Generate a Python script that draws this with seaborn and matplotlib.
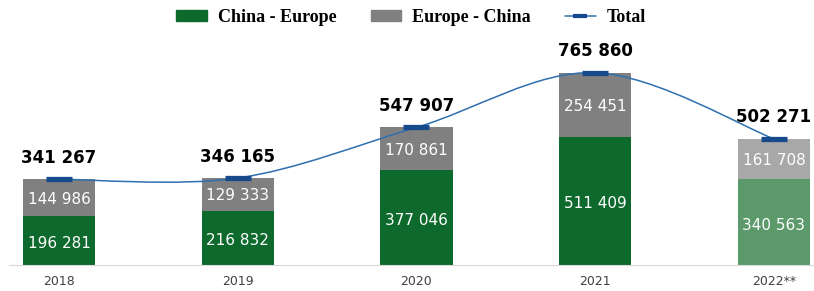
import matplotlib.pyplot as plt
import seaborn as sns
import numpy as np
import pandas as pd
from matplotlib.path import Path
from matplotlib.patches import PathPatch, Patch
from matplotlib.lines import Line2D

sns.set_style('white')

years = ['2018', '2019', '2020', '2021', '2022**']
china_europe = [196281, 216832, 377046, 511409, 340563]
europe_china = [144986, 129333, 170861, 254451, 161708]

green_cols = ['#0e6a2c', '#0e6a2c', '#0e6a2c', '#0e6a2c', '#5c9a6c']
grey_cols = ['#808080', '#808080', '#808080', '#808080', '#a8a8a8']
line_col = '#2e6fae'
mark_col = '#174a8b'

data = pd.DataFrame({'year': years, 'ce': china_europe, 'ec': europe_china})
data['total'] = data.ce + data.ec


def fmt(v):
    return f"{v:,}".replace(",", " ")


fig = plt.figure(figsize=(8.14, 2.91), dpi=100)
ax = fig.add_axes([0, 26 / 291, 1, 226 / 291])

# grey = full stack, green drawn over the lower part
sns.barplot(data=data, x='year', y='total', hue='year', palette=grey_cols,
            legend=False, width=0.405, saturation=1, linewidth=0, ax=ax)
sns.barplot(data=data, x='year', y='ce', hue='year', palette=green_cols,
            legend=False, width=0.405, saturation=1, linewidth=0, ax=ax)

# smooth line through the totals (catmull-rom as bezier segments)
xs = np.arange(len(years))
ys = data.total.values
verts = [(xs[0], ys[0])]
codes = [Path.MOVETO]
for i in range(len(xs) - 1):
    p0 = (xs[max(i - 1, 0)], ys[max(i - 1, 0)])
    p1 = (xs[i], ys[i])
    p2 = (xs[i + 1], ys[i + 1])
    p3 = (xs[min(i + 2, len(xs) - 1)], ys[min(i + 2, len(xs) - 1)])
    c1 = (p1[0] + (p2[0] - p0[0]) / 6, p1[1] + (p2[1] - p0[1]) / 6)
    c2 = (p2[0] - (p3[0] - p1[0]) / 6, p2[1] - (p3[1] - p1[1]) / 6)
    verts += [c1, c2, p2]
    codes += [Path.CURVE4] * 3
ax.add_patch(PathPatch(Path(verts, codes), fill=False, edgecolor=line_col, lw=1.1, zorder=4))
ax.plot(xs, ys, ls='none', marker='_', ms=19, mew=3.8, color=mark_col, zorder=5)

for i, r in data.iterrows():
    ax.text(i, r.total + 50000, fmt(r.total), ha='center', va='bottom',
            fontsize=12, fontweight='bold', color='black', family='DejaVu Sans')
    ax.text(i, r.ce + r.ec / 2 - 6000, fmt(r.ec), ha='center', va='center',
            fontsize=11, color='white', family='DejaVu Sans')
    ax.text(i, r.ce / 2 - 12000, fmt(r.ce), ha='center', va='center',
            fontsize=11, color='white', family='DejaVu Sans')

ax.set_xlim(-0.33, 4.224)
ax.set_ylim(0, 900000)
ax.set_xlabel('')
ax.set_ylabel('')
ax.set_yticks([])
ax.tick_params(axis='x', length=0, pad=7, labelsize=9, labelcolor='#404040')
for s in ['top', 'right', 'left']:
    ax.spines[s].set_visible(False)
ax.spines['bottom'].set_color('#d9d9d9')
ax.spines['bottom'].set_bounds(-0.28, 4.224)

handles = [Patch(color='#0e6a2c'), Patch(color='#808080'),
           Line2D([0], [0], color=line_col, lw=1.1, marker='_', ms=10, mew=3, mec=mark_col)]
leg = fig.legend(handles, ['China - Europe', 'Europe - China', 'Total'], loc='center',
                 bbox_to_anchor=(0.505, 0.94), ncol=3, frameon=False, handlelength=1.7,
                 handleheight=0.55, handletextpad=0.6, columnspacing=1.9,
                 prop={'family': 'Liberation Serif', 'weight': 'bold', 'size': 13})
for t in leg.get_texts():
    t.set_color('black')

fig.savefig('out.png', dpi=100)
